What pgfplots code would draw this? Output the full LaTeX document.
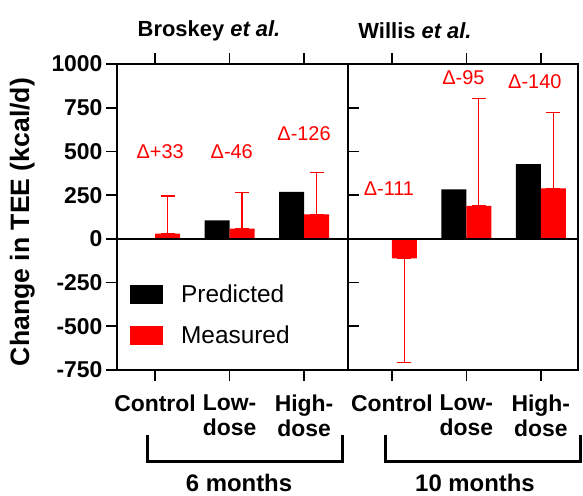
\documentclass[border=0pt]{standalone}
\usepackage{fontspec}
\setmainfont{Liberation Sans}
\usepackage{pgfplots}
\pgfplotsset{compat=1.18}
\definecolor{myred}{RGB}{255,0,0}
\tikzset{dfont/.style={myred, font=\fontsize{20}{24}\selectfont}}
\begin{document}
\begin{tikzpicture}
\path (0bp,0bp) rectangle (583bp,494bp);
\pgfplotsset{
  common/.style={
    scale only axis, height=306bp, ymin=-750, ymax=1000,
    axis line style={line width=1.6bp},
    every tick/.style={black, line width=1.6bp},
    tick align=outside, major tick length=11bp,
    ybar=0pt, bar width=25bp,
    xtick={0,1,2},
    xticklabels={Control,{Low-\\dose},{High-\\dose}},
    xticklabel style={align=center, font=\fontsize{23}{25.5}\selectfont\bfseries, yshift=-10bp},
    yticklabel style={font=\fontsize{23}{25}\selectfont\bfseries},
    /pgf/number format/assume math mode=true,
    /pgf/number format/1000 sep={},
    error bars/y dir=both, error bars/y explicit,
    error bars/error bar style={myred, line width=1.1bp},
    error bars/error mark options={rotate=90, mark size=7bp, myred, line width=1.1bp},
    legend image code/.code={\fill[##1] (0bp,-9.5bp) rectangle (33bp,9.5bp);},
  },
}
% Left panel: Broskey et al.
\begin{axis}[common, at={(117bp,124bp)}, anchor=south west, width=231bp,
  xmin=-0.51, xmax=2.59,
  ytick={-750,-500,-250,0,250,500,750,1000},
  ylabel={Change in TEE (kcal/d)},
  ylabel style={font=\fontsize{26.7}{30}\selectfont\bfseries, yshift=10bp, xshift=-5bp},
  legend style={draw=none, fill=none, at={(rel axis cs:0.043,0.292)}, anchor=north west,
    font=\fontsize{24.5}{28}\selectfont, row sep=18bp, legend cell align=left,
    /tikz/every odd column/.append style={column sep=16bp}},
  ]
\addplot[fill=black, draw=none] coordinates {(0,0) (1,105) (2,268)};
\addplot[fill=myred, draw=none] coordinates {
  (0,30) += (0,215) -= (0,0)
  (1,58) += (0,205) -= (0,0)
  (2,140) += (0,240) -= (0,0)};
\legend{Predicted,Measured}
\draw[line width=1.6bp] ({rel axis cs:0,0}|-{axis cs:0,0}) -- ({rel axis cs:1,0}|-{axis cs:0,0});
\node[dfont] at (axis cs:0.07,500) {Δ+33};
\node[dfont] at (axis cs:1.03,500) {Δ-46};
\node[dfont] at (axis cs:2.0,600) {Δ-126};
\end{axis}
% Right panel: Willis et al.
\begin{axis}[common, at={(348bp,124bp)}, anchor=south west, width=230bp,
  xmin=-0.59, xmax=2.5,
  ytick=\empty,
  ]
\addplot[fill=black, draw=none] coordinates {(0,0) (1,283) (2,427)};
\addplot[fill=myred, draw=none] coordinates {
  (0,-111) += (0,0) -= (0,594)
  (1,188) += (0,617) -= (0,0)
  (2,288) += (0,437) -= (0,0)};
\draw[line width=1.6bp] ({rel axis cs:0,0}|-{axis cs:0,0}) -- ({rel axis cs:1,0}|-{axis cs:0,0});
\node[dfont] at (axis cs:-0.04,285) {Δ-111};
\node[dfont] at (axis cs:0.96,920) {Δ-95};
\node[dfont] at (axis cs:1.92,900) {Δ-140};
\end{axis}
% titles
\node[font=\fontsize{22}{26}\selectfont\bfseries] at (209bp,463bp) {Broskey \textit{et al.}};
\node[font=\fontsize{22}{26}\selectfont\bfseries] at (415bp,463bp) {Willis \textit{et al.}};
% brackets
\draw[line width=3bp] (147bp,59bp) -- (147bp,32bp) -- (342bp,32bp) -- (342bp,59bp);
\draw[line width=3bp] (385bp,59bp) -- (385bp,32bp) -- (580bp,32bp) -- (580bp,59bp);
\node[font=\fontsize{24}{28}\selectfont\bfseries] at (239bp,11bp) {6 months};
\node[font=\fontsize{24}{28}\selectfont\bfseries] at (475bp,11bp) {10 months};
\end{tikzpicture}
\end{document}
